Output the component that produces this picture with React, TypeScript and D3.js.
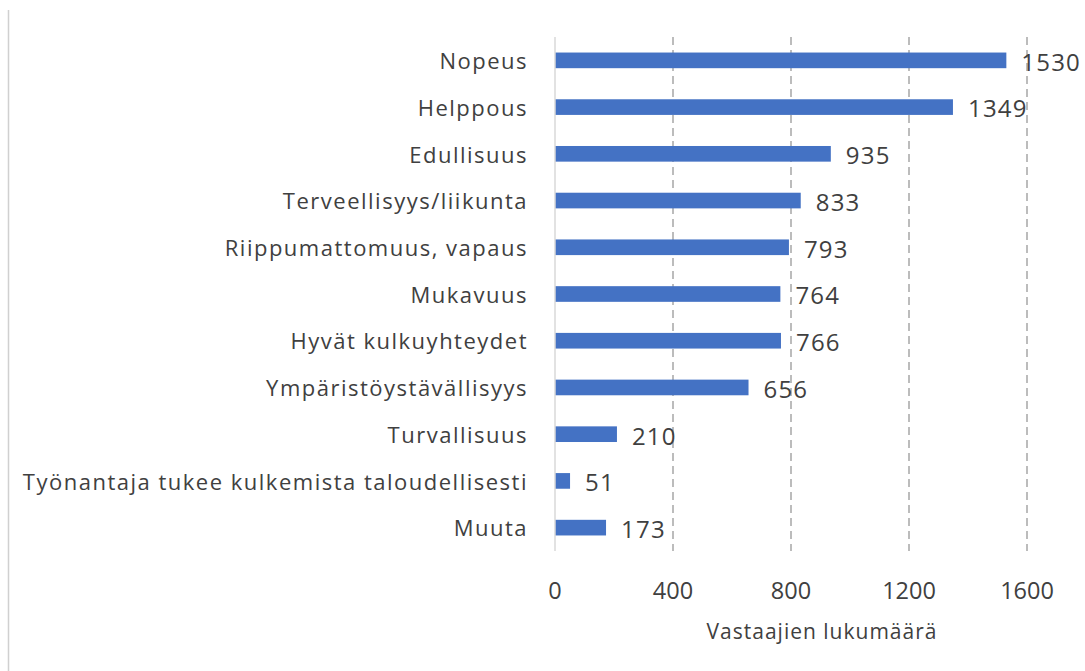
import React from "react";
import * as d3 from "d3";

const categories = [
  "Nopeus",
  "Helppous",
  "Edullisuus",
  "Terveellisyys/liikunta",
  "Riippumattomuus, vapaus",
  "Mukavuus",
  "Hyvät kulkuyhteydet",
  "Ympäristöystävällisyys",
  "Turvallisuus",
  "Työnantaja tukee kulkemista taloudellisesti",
  "Muuta",
];
const values = [1530, 1349, 935, 833, 793, 764, 766, 656, 210, 51, 173];
const xTicks = [0, 400, 800, 1200, 1600];
const xTitle = "Vastaajien lukumäärä";

const W = 1085;
const H = 671;
const FONT = "'Open Sans', 'Noto Sans', sans-serif";

export default function App() {
  const x = d3.scaleLinear().domain([0, 1600]).range([555, 1027]);
  const y = d3.scaleBand<string>().domain(categories).range([37, 551]).paddingInner(0.665).paddingOuter(0.3325);
  const bw = y.bandwidth();
  return (
    <svg width={W} height={H} style={{ position: "absolute", left: 0, top: 0, background: "#fff" }}>
      <line x1={8.5} x2={8.5} y1={10} y2={H} stroke="#d0d0d0" strokeWidth={1.5} />
      {xTicks.slice(1).map((t) => (
        <line key={t} x1={x(t)} x2={x(t)} y1={37} y2={551} stroke="#a6a6a6" strokeWidth={1.5} strokeDasharray="8,5" />
      ))}
      {categories.map((c, i) => (
        <g key={c}>
          <rect x={x(0)} y={y(c)!} width={x(values[i]) - x(0)} height={bw} fill="#4472c4" />
          <text x={528} y={y(c)! + bw / 2 + 1} dy="0.35em" textAnchor="end" fontFamily={FONT} fontSize={22} letterSpacing={1.5} fill="#404040">
            {c}
          </text>
          <text x={x(values[i]) + 15} y={y(c)! + bw / 2 + 2} dy="0.35em" textAnchor="start" fontFamily={FONT} fontSize={24} letterSpacing={1.2} fill="#404040">
            {values[i]}
          </text>
        </g>
      ))}
      <line x1={x(0)} x2={x(0)} y1={37} y2={551} stroke="#d9d9d9" strokeWidth={1.5} />
      {xTicks.map((t) => (
        <text key={t} x={x(t)} y={591} dy="0.35em" textAnchor="middle" fontFamily={FONT} fontSize={23.5} fill="#404040">
          {t}
        </text>
      ))}
      <text x={822} y={632} dy="0.35em" textAnchor="middle" fontFamily={FONT} fontSize={21} letterSpacing={1} fill="#404040">
        {xTitle}
      </text>
    </svg>
  );
}
